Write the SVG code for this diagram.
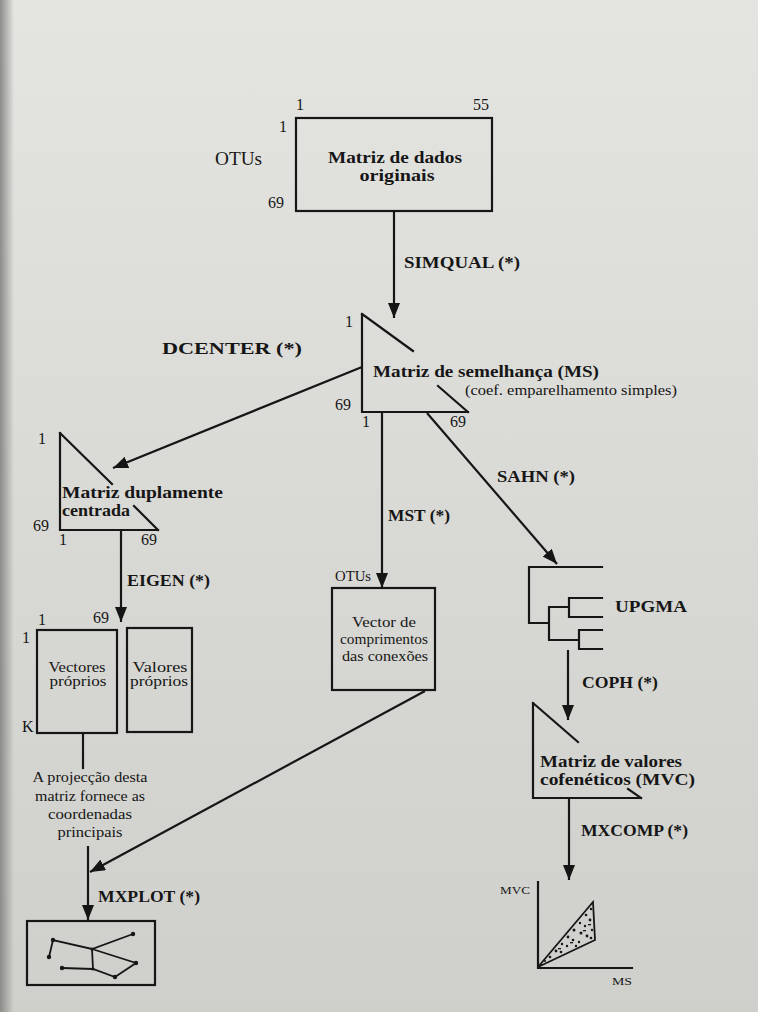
<svg xmlns="http://www.w3.org/2000/svg" width="758" height="1012" viewBox="0 0 758 1012" font-family="'Liberation Serif', 'DejaVu Serif', serif">
<defs>
<linearGradient id="bg" x1="0" y1="0" x2="0" y2="1">
<stop offset="0" stop-color="#e4e4e1"/>
<stop offset="0.5" stop-color="#d9d9d5"/>
<stop offset="1" stop-color="#cfcfcb"/>
</linearGradient>
<linearGradient id="edge" x1="0" y1="0" x2="1" y2="0">
<stop offset="0" stop-color="#8c8c8a"/>
<stop offset="1" stop-color="#8c8c8a" stop-opacity="0"/>
</linearGradient>
<marker id="ah" viewBox="0 0 15 12" refX="15" refY="6" markerWidth="15" markerHeight="12" orient="auto" markerUnits="userSpaceOnUse">
<path d="M0,0 L15,6 L0,12 z" fill="#151515"/>
</marker>
<style>
.ln{fill:none;stroke:#161616;stroke-width:2.2;stroke-linecap:square}
.bx{fill:none;stroke:#161616;stroke-width:2.2}
.ar{fill:none;stroke:#161616;stroke-width:2.2;marker-end:url(#ah)}
text{font-family:"Liberation Serif","DejaVu Serif",serif;fill:#161616}
.b{font-weight:bold;font-size:17px}
.r{font-size:15px}
.n{font-size:16px}
.s{font-size:14px}
.t{font-size:11px}
</style>
</defs>
<rect x="0" y="0" width="758" height="1012" fill="url(#bg)"/>
<rect x="0" y="0" width="14" height="1012" fill="url(#edge)"/>

<g id="connectors">
<path class="ar" d="M394,211 V318"/>
<path class="ar" d="M362,367 L113,468"/>
<path class="ar" d="M121,531 V622"/>
<path class="ar" d="M382,413 V588"/>
<path class="ar" d="M427,413 L557,564"/>
<path class="ar" d="M568,650 V720"/>
<path class="ar" d="M569,799 V880"/>
<path class="ln" d="M83,734 V768"/>
<path class="ar" d="M88,846 V920"/>
<path class="ar" d="M425,691 L90,872"/>
<text class="b" x="404" y="268" textLength="116" lengthAdjust="spacingAndGlyphs">SIMQUAL (*)</text>
<text class="b" x="162" y="354" textLength="140" lengthAdjust="spacingAndGlyphs">DCENTER (*)</text>
<text class="b" x="127" y="586" textLength="83" lengthAdjust="spacingAndGlyphs">EIGEN (*)</text>
<text class="b" x="388" y="521" textLength="62" lengthAdjust="spacingAndGlyphs">MST (*)</text>
<text class="b" x="497" y="482" textLength="78" lengthAdjust="spacingAndGlyphs">SAHN (*)</text>
<text class="b" x="582" y="688" textLength="76" lengthAdjust="spacingAndGlyphs">COPH (*)</text>
<text class="b" x="581" y="836" textLength="107" lengthAdjust="spacingAndGlyphs">MXCOMP (*)</text>
<text class="b" x="98" y="902" textLength="102" lengthAdjust="spacingAndGlyphs">MXPLOT (*)</text>
</g>

<g id="original">
<rect class="bx" x="296" y="118" width="196" height="93"/>
<text class="n" x="296" y="110">1</text>
<text class="n" x="473" y="110">55</text>
<text class="n" x="279" y="132">1</text>
<text class="n" x="268" y="208">69</text>
<text x="215" y="165" font-size="18" textLength="47" lengthAdjust="spacingAndGlyphs">OTUs</text>
<text class="b" x="395" y="163" text-anchor="middle" textLength="134" lengthAdjust="spacingAndGlyphs">Matriz de dados</text>
<text class="b" x="397" y="181" text-anchor="middle" textLength="75" lengthAdjust="spacingAndGlyphs">originais</text>
</g>

<g id="ms">
<path class="ln" d="M362,314 V412 H468 M362,314 L413,351 M438,386 L468,412"/>
<text class="n" x="345" y="327">1</text>
<text class="n" x="335" y="410">69</text>
<text class="n" x="362" y="427">1</text>
<text class="n" x="450" y="427">69</text>
<text class="b" x="373" y="377" textLength="226" lengthAdjust="spacingAndGlyphs">Matriz de semelhança (MS)</text>
<text class="s" x="465" y="395" textLength="212" lengthAdjust="spacingAndGlyphs">(coef. emparelhamento simples)</text>
</g>

<g id="dcenter">
<path class="ln" d="M60,433 V530 H158 M60,433 L112,484 M134,506 L158,530"/>
<text class="n" x="38" y="444">1</text>
<text class="n" x="33" y="531">69</text>
<text class="n" x="59" y="545">1</text>
<text class="n" x="141" y="545">69</text>
<text class="b" x="62" y="498" textLength="161" lengthAdjust="spacingAndGlyphs">Matriz duplamente</text>
<text class="b" x="62" y="516" textLength="68" lengthAdjust="spacingAndGlyphs">centrada</text>
</g>

<g id="vectores">
<rect class="bx" x="37" y="630" width="80" height="103"/>
<text class="n" x="38" y="625">1</text>
<text class="n" x="93" y="623">69</text>
<text class="n" x="22" y="643">1</text>
<text class="n" x="22" y="732">K</text>
<text class="r" x="77" y="672" text-anchor="middle" textLength="57" lengthAdjust="spacingAndGlyphs">Vectores</text>
<text class="r" x="78" y="686" text-anchor="middle" textLength="57" lengthAdjust="spacingAndGlyphs">próprios</text>
</g>

<g id="valores">
<rect class="bx" x="127" y="628" width="65" height="104"/>
<text class="r" x="160" y="672" text-anchor="middle" textLength="55" lengthAdjust="spacingAndGlyphs">Valores</text>
<text class="r" x="159" y="686" text-anchor="middle" textLength="58" lengthAdjust="spacingAndGlyphs">próprios</text>
</g>

<g id="note">
<text class="r" x="90" y="782" text-anchor="middle" textLength="115" lengthAdjust="spacingAndGlyphs">A projecção desta</text>
<text class="r" x="90" y="801" text-anchor="middle" textLength="110" lengthAdjust="spacingAndGlyphs">matriz fornece as</text>
<text class="r" x="90" y="819" text-anchor="middle" textLength="84" lengthAdjust="spacingAndGlyphs">coordenadas</text>
<text class="r" x="90" y="837" text-anchor="middle" textLength="65" lengthAdjust="spacingAndGlyphs">principais</text>
</g>

<g id="mst">
<rect class="bx" x="332" y="588" width="103" height="102"/>
<text class="r" x="335" y="581" textLength="36" lengthAdjust="spacingAndGlyphs">OTUs</text>
<text class="r" x="384" y="627" text-anchor="middle" textLength="64" lengthAdjust="spacingAndGlyphs">Vector de</text>
<text class="r" x="384" y="644" text-anchor="middle" textLength="88" lengthAdjust="spacingAndGlyphs">comprimentos</text>
<text class="r" x="385" y="661" text-anchor="middle" textLength="86" lengthAdjust="spacingAndGlyphs">das conexões</text>
</g>

<g id="upgma">
<path class="ln" stroke-linecap="butt" d="M602,567 H529 V623 H549 M549,607 V640 M549,607 H569 M569,598 V617 M602,598 H569 M569,617 H602 M549,640 H579 M579,630 V649 M602,630 H579 M579,649 H602"/>
<text class="b" x="615" y="612" textLength="72" lengthAdjust="spacingAndGlyphs">UPGMA</text>
</g>

<g id="mvc">
<path class="ln" d="M533,703 V798 H641 M533,703 L578,742 M628,789 L641,798"/>
<text class="b" x="540" y="767" textLength="142" lengthAdjust="spacingAndGlyphs">Matriz de valores</text>
<text class="b" x="540" y="785" textLength="155" lengthAdjust="spacingAndGlyphs">cofenéticos  (MVC)</text>
</g>

<g id="mxplot">
<rect class="bx" x="27" y="921" width="128" height="64"/>
<path fill="none" stroke="#161616" stroke-width="1.8" d="M49,957 L53,940 L92,949 L133,934 M92,949 L136,963 L115,977 L93,969 L62,968 M92,949 L93,969"/>
<g fill="#161616">
<circle cx="53" cy="940" r="2.2"/><circle cx="49" cy="957" r="2.2"/><circle cx="133" cy="934" r="2.2"/>
<circle cx="136" cy="963" r="2.2"/><circle cx="62" cy="968" r="2.2"/><circle cx="115" cy="977" r="2.2"/>
<circle cx="93" cy="969" r="1.6"/><circle cx="92" cy="949" r="1.6"/>
</g>
</g>

<g id="mxcomp">
<path class="ln" stroke-width="2" d="M538,882 V968 H632"/>
<path fill="none" stroke="#161616" stroke-width="1.8" d="M538,967 L593,902 L595,940 Z"/>
<g fill="#161616">
<circle cx="550" cy="957" r="1.3"/><circle cx="556" cy="951" r="1.4"/><circle cx="562" cy="944" r="1.2"/>
<circle cx="561" cy="952" r="1.3"/><circle cx="568" cy="937" r="1.4"/><circle cx="567" cy="946" r="1.2"/>
<circle cx="574" cy="930" r="1.5"/><circle cx="573" cy="940" r="1.3"/><circle cx="576" cy="946" r="1.2"/>
<circle cx="580" cy="923" r="1.2"/><circle cx="581" cy="933" r="1.5"/><circle cx="579" cy="942" r="1.2"/>
<circle cx="586" cy="915" r="1.3"/><circle cx="585" cy="926" r="1.2"/><circle cx="587" cy="936" r="1.4"/>
<circle cx="591" cy="909" r="1.2"/><circle cx="590" cy="920" r="1.4"/><circle cx="592" cy="930" r="1.2"/>
<circle cx="591" cy="938" r="1.3"/><circle cx="545" cy="961" r="1.1"/>
<rect x="583" y="930" width="3" height="1.3"/><rect x="570" y="942" width="3" height="1.3"/>
<rect x="588" y="924" width="3" height="1.3"/><rect x="558" y="948" width="3" height="1.3"/>
</g>
<text class="t" x="500" y="894" textLength="30" lengthAdjust="spacingAndGlyphs">MVC</text>
<text class="t" x="612" y="985" textLength="20" lengthAdjust="spacingAndGlyphs">MS</text>
</g>
</svg>
